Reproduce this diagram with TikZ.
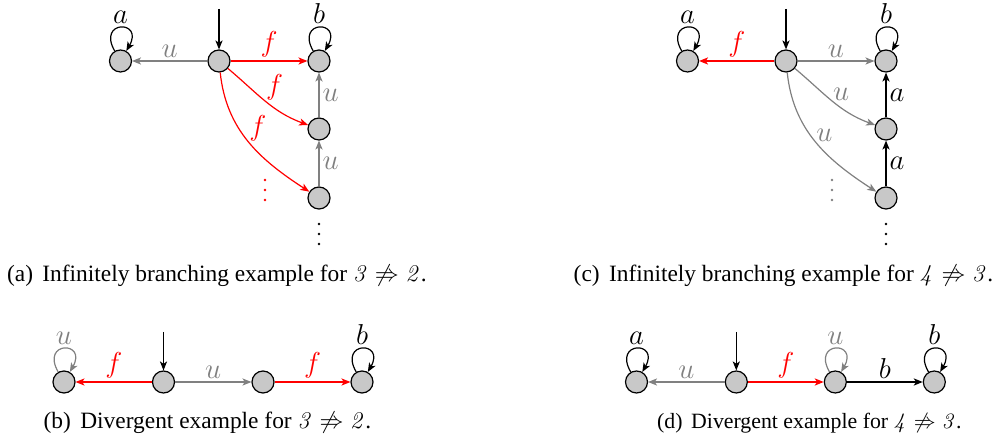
\documentclass[tikz,border=0pt]{standalone}
\usepackage[no-math]{fontspec}
\setmainfont{Liberation Serif}
\usetikzlibrary{arrows.meta}
\definecolor{StateFill}{RGB}{200,200,200}
\definecolor{EdgeGray}{RGB}{128,128,128}
\definecolor{EdgeRed}{RGB}{255,0,0}
\tikzset{
  st/.style={circle, draw=black, fill=StateFill, line width=0.6pt,
             minimum size=11pt, inner sep=0pt},
  arr/.style={-{Stealth[length=4.5pt,width=3.6pt,inset=1.2pt]}, line width=0.6pt},
  ue/.style={arr, EdgeGray},
  fe/.style={arr, EdgeRed},
  ke/.style={arr, black},
  lbl/.style={font=\Large, inner sep=1.5pt},
  ulbl/.style={lbl, text=EdgeGray},
  flbl/.style={lbl, text=EdgeRed},
  selfloop/.style={out=120, in=60, min distance=18pt, looseness=1},
  capt/.style={font=\fontsize{11.7}{14}\selectfont, anchor=base west, inner sep=0pt}
}

\begin{document}
\begin{tikzpicture}[x=0.5pt,y=0.5pt]
\useasboundingbox (0,0) rectangle (1005,443);

% (a) Infinitely branching, 3 vs 2
\node[st] (a0) at (219,382) {};
\node[st] (aL) at (120.5,382) {};
\node[st] (aT) at (319,382) {};
\node[st] (aM) at (319,314) {};
\node[st] (aB) at (319,245) {};
\coordinate (ain) at (219,434);
\draw[ke] (ain) -- (a0);
\draw[ue] (a0) -- node[ulbl, above] {$u$} (aL);
\draw[fe] (a0) -- node[flbl, above] {$f$} (aT);
\draw[fe] (a0) to[out=-40, in=160] node[flbl, anchor=south west, inner sep=0pt] {$f$} (aM);
\draw[fe] (a0) to[out=-84, in=147] node[flbl, anchor=south west, inner sep=0pt] {$f$} (aB);
\draw[ue] (aM) -- node[ulbl, right] {$u$} (aT);
\draw[ue] (aB) -- node[ulbl, right] {$u$} (aM);
\draw[ke] (aL) to[selfloop] node[lbl, above] {$a$} (aL);
\draw[ke] (aT) to[selfloop] node[lbl, above] {$b$} (aT);
\foreach \yy in {243,253,263} \fill[EdgeRed] (265,\yy) circle (1.4);
\foreach \yy in {199,209,219} \fill (319,\yy) circle (1.4);

% (c) Infinitely branching, 4 vs 3
\begin{scope}[shift={(567,0)}]
\node[st] (c0) at (219,382) {};
\node[st] (cL) at (120.5,382) {};
\node[st] (cT) at (319,382) {};
\node[st] (cM) at (319,314) {};
\node[st] (cB) at (319,245) {};
\coordinate (cin) at (219,434);
\draw[ke] (cin) -- (c0);
\draw[fe] (c0) -- node[flbl, above] {$f$} (cL);
\draw[ue] (c0) -- node[ulbl, above] {$u$} (cT);
\draw[ue] (c0) to[out=-40, in=160] node[ulbl, anchor=south west, inner sep=0pt] {$u$} (cM);
\draw[ue] (c0) to[out=-84, in=147] node[ulbl, anchor=south west, inner sep=0pt] {$u$} (cB);
\draw[ke] (cM) -- node[lbl, right] {$a$} (cT);
\draw[ke] (cB) -- node[lbl, right] {$a$} (cM);
\draw[ke] (cL) to[selfloop] node[lbl, above] {$a$} (cL);
\draw[ke] (cT) to[selfloop] node[lbl, above] {$b$} (cT);
\foreach \yy in {243,253,263} \fill[EdgeGray] (265,\yy) circle (1.4);
\foreach \yy in {199,209,219} \fill (319,\yy) circle (1.4);
\end{scope}

% (b) Divergent, 3 vs 2
\node[st] (b1) at (64,61) {};
\node[st] (b2) at (163.5,61) {};
\node[st] (b3) at (263,61) {};
\node[st] (b4) at (362,61) {};
\coordinate (bin) at (163.5,111);
\draw[ke] (bin) -- (b2);
\draw[fe] (b2) -- node[flbl, above] {$f$} (b1);
\draw[ue] (b2) -- node[ulbl, above] {$u$} (b3);
\draw[fe] (b3) -- node[flbl, above] {$f$} (b4);
\draw[ue] (b1) to[selfloop] node[ulbl, above] {$u$} (b1);
\draw[ke] (b4) to[selfloop] node[lbl, above] {$b$} (b4);

% (d) Divergent, 4 vs 3
\node[st] (d1) at (636.5,61) {};
\node[st] (d2) at (736.3,61) {};
\node[st] (d3) at (835.3,61) {};
\node[st] (d4) at (934.3,61) {};
\coordinate (din) at (736.3,111);
\draw[ke] (din) -- (d2);
\draw[ue] (d2) -- node[ulbl, above] {$u$} (d1);
\draw[fe] (d2) -- node[flbl, above] {$f$} (d3);
\draw[ke] (d3) -- node[lbl, above] {$b$} (d4);
\draw[ke] (d1) to[selfloop] node[lbl, above] {$a$} (d1);
\draw[ue] (d3) to[selfloop] node[ulbl, above] {$u$} (d3);
\draw[ke] (d4) to[selfloop] node[lbl, above] {$b$} (d4);

% Captions
\node[capt] (capa) at (6.7,161) {(a)\hspace{0.4em}Infinitely branching example for $\mathit{3}\not\Rightarrow\mathit{2}$.};
\node[capt] (capc) at (573.3,161) {(c)\hspace{0.4em}Infinitely branching example for $\mathit{4}\not\Rightarrow\mathit{3}$.};
\node[capt] (capb) at (43.3,14) {(b)\hspace{0.4em}Divergent example for $\mathit{3}\not\Rightarrow\mathit{2}$.};
\node[capt, font=\fontsize{10.9}{13}\selectfont] (capd) at (656.7,14) {(d)\hspace{0.4em}Divergent example for $\mathit{4}\not\Rightarrow\mathit{3}$.};

\end{tikzpicture}
\end{document}
